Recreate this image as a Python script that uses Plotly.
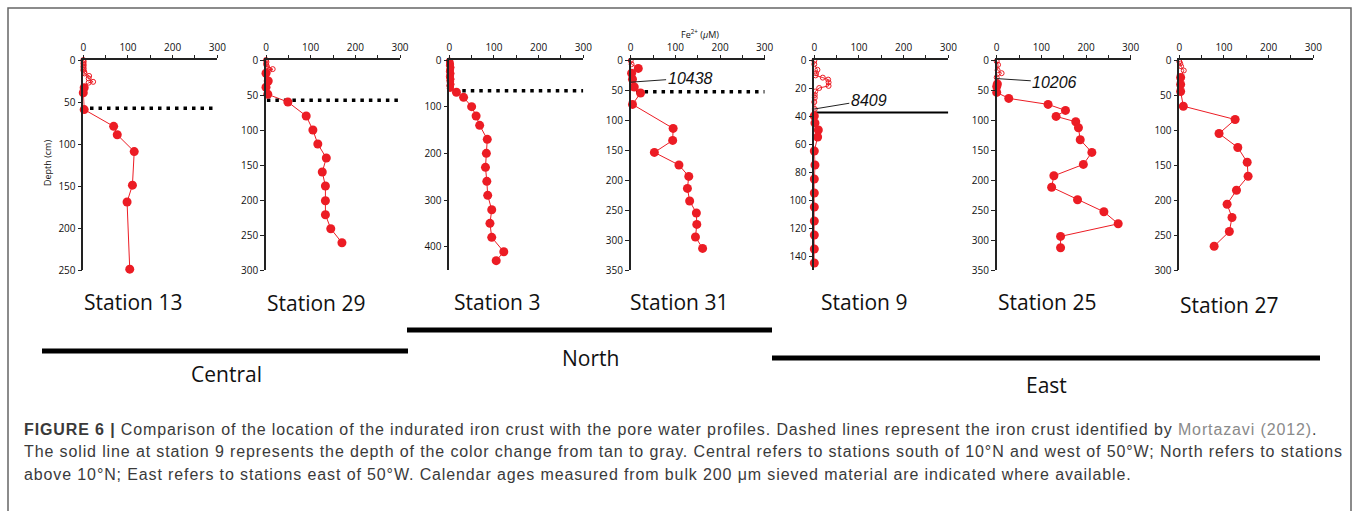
import plotly.graph_objects as go

W, H = 1358, 511

stations = ["Station 13", "Station 29", "Station 3", "Station 31", "Station 9", "Station 25", "Station 27"]
depth_max = [250, 300, 450, 350, 150, 350, 300]
depth_dtick = [50, 50, 100, 50, 20, 50, 50]

# upper (small / open) samples: Fe2+ (uM) and depth (cm)
open_fe = [
    [0, 1, 0, 1, 0, 1, 0, 2, 3, 13, 12, 22, 12],
    [0, 1, 0, 2, 3, 8, 15],
    [0, 2, 1, 3, 0, 2, 4, 1, 3, 0, 2, 4, 1, 3, 0, 2, 4, 1, 3, 2, 4, 1, 3, 2],
    [0, 2],
    [0, 0, 7, 4, 3, 19, 31, 32, 32, 11, 2, 1, 1, 0, 1],
    [0, 3, 2, 11, 0],
    [0, 2, 4, 10],
]
open_depth = [
    [0, 2, 4, 6, 8, 10, 12, 14, 16, 19, 22, 26, 27],
    [0, 3, 6, 9, 12, 14, 13],
    [2, 4, 7, 9, 11, 14, 16, 19, 21, 24, 26, 29, 31, 34, 36, 39, 41, 44, 46, 49, 52, 55, 58, 61],
    [1, 7],
    [0.5, 3, 7, 9.5, 11, 12.6, 14, 16, 18.5, 20, 22.5, 25, 27, 30, 35],
    [2, 8, 17, 22, 29],
    [2, 5, 9, 15],
]
# deeper (filled) samples
fill_fe = [
    [2, 0, 2, 68, 76, 114, 110, 98, 104],
    [0, 5, 0, 4, 49, 90, 105, 116, 135, 126, 133, 133, 133, 145, 170],
    [16, 32, 50, 60, 68, 85, 83, 81, 84, 86, 95, 91, 95, 122, 105],
    [17, 2, 4, 8, 22, 4, 95, 94, 53, 108, 130, 127, 132, 147, 148, 145, 161],
    [0, 1.5, 9, 7.5, 0, 1.5, 0, 0, 0, 0, 0, 0, 0],
    [1.5, 0, 0, 27, 115, 154, 133, 177, 183, 187, 213, 194, 128, 123, 181, 240, 272, 143, 143],
    [3, 3, 3, 9, 125, 89, 131, 152, 154, 128, 107, 118, 112, 78],
]
fill_depth = [
    [33, 39, 59, 79, 89, 109, 149, 169, 249],
    [19, 30, 39, 49, 60, 80, 100, 120, 140, 160, 180, 201, 221, 241, 261],
    [69, 80, 100, 120, 140, 170, 200, 230, 260, 290, 321, 350, 380, 411, 430],
    [14, 22, 32, 45, 55, 74, 114, 134, 154, 175, 194, 214, 235, 255, 274, 295, 314],
    [40, 45, 50, 55, 65, 75, 85, 95, 105, 115, 125, 135, 145],
    [40, 44, 54, 64, 74, 84, 94, 103, 113, 133, 154, 174, 193, 212, 233, 253, 273, 294, 313],
    [25, 35, 45, 66, 85, 105, 125, 146, 166, 186, 206, 225, 245, 266],
]
crust_depth = [57.5, 57.6, 65.8, 53, None, None, None]   # dashed: iron crust
crust_start = [15, 2, 10, 12, None, None, None]
color_change_depth = [None, None, None, None, 37.5, None, None]  # solid line, station 9
age_labels = [None, None, None, "10438", "8409", "10206", None]
age_depth = [None, None, None, 37, 35, 31, None]
age_text_pos = [None, None, None, (133, 30), (122, 28.6), (130, 37.2), None]

groups = ["Central", "North", "East"]

RED = "#ec1c24"
x_left = [83.3, 266, 449.3, 630.7, 814.3, 996.7, 1179.3]
title_x = [133, 316, 497, 679, 864, 1047, 1229]
title_y = [302, 303, 302, 302, 302, 302, 305]
PW = 134
ytop, ybot = 60, 270

fig = go.Figure()
layout = dict(width=W, height=H, margin=dict(l=0, r=0, t=0, b=0),
              paper_bgcolor="white", plot_bgcolor="rgba(0,0,0,0)", showlegend=False)
annotations = []
shapes = []

for i in range(7):
    n = "" if i == 0 else str(i + 1)
    xa, ya = "x" + n, "y" + n
    fe_all = open_fe[i] + fill_fe[i]
    d_all = open_depth[i] + fill_depth[i]
    fig.add_trace(go.Scatter(x=fe_all, y=d_all, mode="lines", line=dict(color=RED, width=1),
                             xaxis=xa, yaxis=ya, hoverinfo="skip"))
    if crust_depth[i] is not None:
        fig.add_trace(go.Scatter(x=[crust_start[i], 300], y=[crust_depth[i]] * 2, mode="lines",
                                 line=dict(color="black", width=3.5, dash="3.5px,5px"),
                                 xaxis=xa, yaxis=ya, hoverinfo="skip"))
    if color_change_depth[i] is not None:
        fig.add_trace(go.Scatter(x=[0, 300], y=[color_change_depth[i]] * 2, mode="lines",
                                 line=dict(color="black", width=2),
                                 xaxis=xa, yaxis=ya, hoverinfo="skip"))
    sym = "circle" if i == 2 else "circle-open"
    fig.add_trace(go.Scatter(x=open_fe[i], y=open_depth[i], mode="markers", cliponaxis=False,
                             marker=dict(symbol=sym, size=5 if i != 2 else 6, color=RED,
                                         line=dict(color=RED, width=1)),
                             xaxis=xa, yaxis=ya, hoverinfo="skip"))
    fig.add_trace(go.Scatter(x=fill_fe[i], y=fill_depth[i], mode="markers", cliponaxis=False,
                             marker=dict(symbol="circle", size=9, color=RED,
                                         line=dict(width=0)),
                             xaxis=xa, yaxis=ya, hoverinfo="skip"))
    dom_x = [x_left[i] / W, (x_left[i] + PW) / W]
    dom_y = [1 - ybot / H, 1 - ytop / H]
    layout["xaxis" + n] = dict(domain=dom_x, anchor=ya, side="top", range=[0, 300],
                               tickvals=[0, 50, 100, 150, 200, 250, 300],
                               ticktext=["0", "", "100", "", "200", "", "300"],
                               ticks="outside", ticklen=3, tickwidth=1, tickcolor="#222",
                               showline=True, linecolor="#222", linewidth=1.5,
                               showgrid=False, zeroline=False, automargin=False,
                               tickfont=dict(family="Open Sans", size=10, color="#111"))
    yt = list(range(0, depth_max[i] + 1, depth_dtick[i]))
    layout["yaxis" + n] = dict(domain=dom_y, anchor=xa, range=[depth_max[i], 0],
                               tickvals=yt, ticks="outside", ticklen=4, tickwidth=1.2,
                               tickcolor="#222", showline=True, linecolor="#222", linewidth=1.5,
                               showgrid=False, zeroline=False, automargin=False,
                               tickfont=dict(family="Open Sans", size=10, color="#111"))
    annotations.append(dict(xref="paper", yref="paper", x=title_x[i] / W,
                            y=1 - title_y[i] / H, xanchor="center", yanchor="middle",
                            text=stations[i], showarrow=False,
                            font=dict(family="Open Sans", size=21, color="#111")))
    if age_labels[i]:
        tx, ty = age_text_pos[i]
        annotations.append(dict(xref=xa, yref=ya, x=0, y=age_depth[i], axref=xa, ayref=ya,
                                ax=tx, ay=ty, text="<i>" + age_labels[i] + "</i>",
                                showarrow=True, arrowhead=0, arrowwidth=1, arrowcolor="#222",
                                standoff=0, xanchor="center", yanchor="middle",
                                font=dict(family="Liberation Sans", size=16, color="#111")))

annotations.append(dict(xref="paper", yref="paper", x=47 / W, y=1 - 163 / H,
                        xanchor="center", yanchor="middle",
                        text="Depth (cm)", textangle=-90, showarrow=False,
                        font=dict(family="Open Sans", size=9, color="#111")))
annotations.append(dict(xref="paper", yref="paper", x=700 / W, y=1 - 34 / H,
                        xanchor="center", yanchor="middle",
                        text="Fe<sup>2+</sup> (<i>μ</i>M)", showarrow=False,
                        font=dict(family="Open Sans", size=9, color="#111")))

# group bars
bars = [(42, 408, 351), (407, 772, 330), (772, 1320, 358)]
label_pos = [(226, 374), (590, 358), (1046, 385)]
for (x0, x1, yb), g, (lx, ly) in zip(bars, groups, label_pos):
    shapes.append(dict(type="line", xref="paper", yref="paper", x0=x0 / W, x1=x1 / W,
                       y0=1 - yb / H, y1=1 - yb / H, line=dict(color="black", width=5)))
    annotations.append(dict(xref="paper", yref="paper", x=lx / W, y=1 - ly / H, text=g,
                            xanchor="center", yanchor="middle",
                            showarrow=False, font=dict(family="Open Sans", size=21, color="#111")))

# border
shapes.append(dict(type="rect", xref="paper", yref="paper", x0=8 / W, x1=1351 / W,
                   y0=-0.2, y1=1 - 8 / H, line=dict(color="#666", width=1.5)))

caption = [
    "<b>FIGURE 6 |</b> Comparison of the location of the indurated iron crust with the pore water profiles. Dashed lines represent the iron crust identified by <span style='color:#8a8a8a'>Mortazavi (2012)</span>.",
    "The solid line at station 9 represents the depth of the color change from tan to gray. Central refers to stations south of 10°N and west of 50°W; North refers to stations",
    "above 10°N; East refers to stations east of 50°W. Calendar ages measured from bulk 200 μm sieved material are indicated where available.",
]
for k, line in enumerate(caption):
    annotations.append(dict(xref="paper", yref="paper", x=22 / W, y=1 - (429 + 22.5 * k) / H,
                            xanchor="left", yanchor="middle",
                            text="<span style='letter-spacing:0.88px'>" + line + "</span>",
                            showarrow=False,
                            font=dict(family="Liberation Sans", size=16, color="#3a3a3a")))

layout["annotations"] = annotations
layout["shapes"] = shapes
fig.update_layout(**layout)
fig.write_html("out.html",
               post_script="document.body.style.margin='0';document.body.style.overflow='hidden';")
